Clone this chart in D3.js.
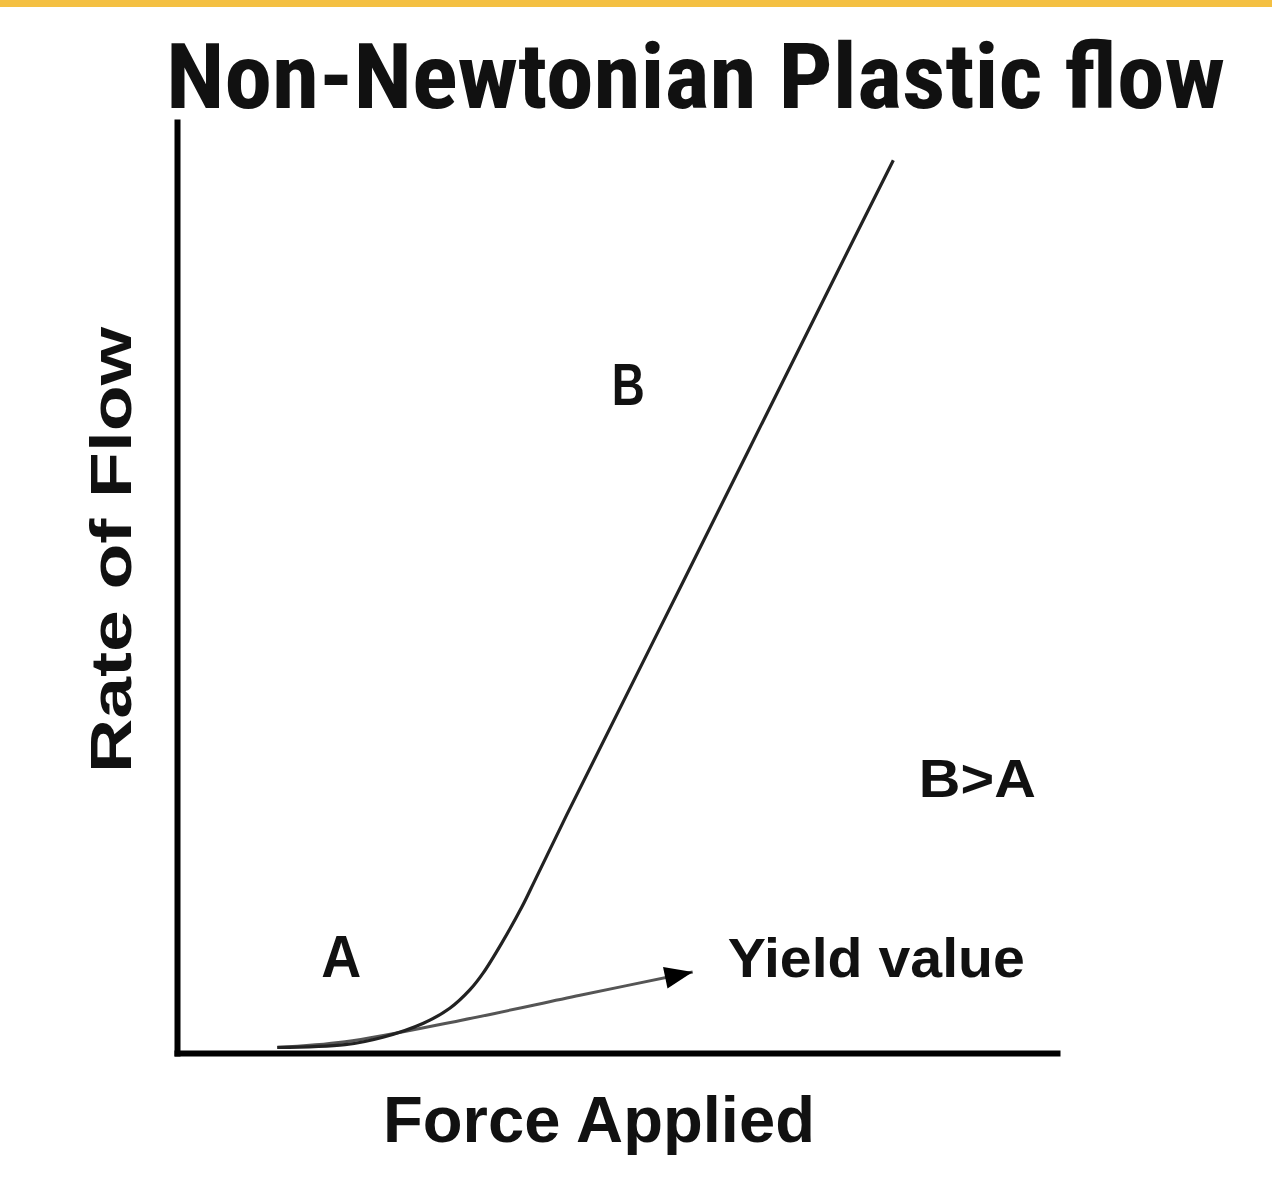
<!DOCTYPE html>
<html>
<head>
<meta charset="utf-8">
<script src="https://cdn.jsdelivr.net/npm/d3@7"></script>
<style>
  html, body { margin: 0; padding: 0; background: #fff; }
  svg { display: block; }
</style>
</head>
<body>
<script>
// ---- data (abstract units: force 0-100, flow 0-100) ----
const titleText = "Non-Newtonian Plastic flow";
const xLabel = "Force Applied";
const yLabel = "Rate of Flow";

// curve B (plastic flow)
const curveForce = [11.4, 19.1, 23.4, 28.0, 31.0, 33.3, 34.8, 36.9, 39.2, 40.7, 44.3, 57.5, 75.1, 81.4];
const curveFlow  = [0.6, 0.9, 1.7, 3.2, 4.8, 6.8, 8.6, 11.8, 15.7, 18.6, 25.6, 50.6, 84.0, 95.9];

// yield value arrow line
const yieldForce = [11.4, 19.1, 32.2, 45.8, 58.6];
const yieldFlow  = [0.6, 1.2, 3.5, 6.2, 8.7];

// annotations
const noteTexts = ["A", "B", "B>A", "Yield value"];
const noteForce = [16.4, 49.4, 84.3, 62.6];
const noteFlow  = [8.2, 69.6, 27.5, 8.2];

// ---- layout ----
const W = 1272, H = 1200;
const svg = d3.select("body").append("svg").attr("width", W).attr("height", H);

svg.append("rect").attr("x", 0).attr("y", 0).attr("width", W).attr("height", 7).attr("fill", "#f4c042");

const x = d3.scaleLinear().domain([0, 100]).range([177, 1057]);
const y = d3.scaleLinear().domain([0, 100]).range([1053, 122]);

// title
svg.append("text")
  .attr("x", 166).attr("y", 108)
  .attr("font-family", "'Liberation Sans Narrow', 'Roboto Condensed', 'DejaVu Sans Condensed', 'Liberation Sans', sans-serif")
  .attr("font-weight", "bold")
  .attr("font-size", 90)
  .attr("textLength", 1059)
  .attr("lengthAdjust", "spacingAndGlyphs")
  .attr("fill", "#111")
  .text(titleText);

// axes
const xAxis = d3.axisBottom(x).tickValues([]).tickSizeOuter(0);
const yAxis = d3.axisLeft(y).tickValues([]).tickSizeOuter(0);
const gx = svg.append("g").attr("transform", `translate(0,${y(0)})`).call(xAxis);
const gy = svg.append("g").attr("transform", `translate(${x(0)},0)`).call(yAxis);
[gx, gy].forEach(g => g.select(".domain").attr("stroke", "#000").attr("stroke-width", 6).attr("stroke-linecap", "square"));

// lines
const line = d3.line().x(d => x(d[0])).y(d => y(d[1])).curve(d3.curveCatmullRom.alpha(0.5));
const curvePts = curveForce.map((f, i) => [f, curveFlow[i]]);
const yieldPts = yieldForce.map((f, i) => [f, yieldFlow[i]]);

svg.append("path").datum(yieldPts).attr("d", line)
  .attr("fill", "none").attr("stroke", "#555").attr("stroke-width", 3);

svg.append("path").datum(curvePts).attr("d", line)
  .attr("fill", "none").attr("stroke", "#222").attr("stroke-width", 3.2);

// arrowhead at end of yield line
const pEnd = yieldPts[yieldPts.length - 1], pPrev = yieldPts[yieldPts.length - 2];
const ang = Math.atan2(y(pEnd[1]) - y(pPrev[1]), x(pEnd[0]) - x(pPrev[0])) * 180 / Math.PI;
svg.append("path")
  .attr("d", "M0,0 L-28,-11 L-28,11 Z")
  .attr("fill", "#000")
  .attr("transform", `translate(${x(pEnd[0])},${y(pEnd[1])}) rotate(${ang})`);

// axis labels
const labelFont = "'Liberation Sans', Arial, sans-serif";
svg.append("text")
  .attr("x", 383).attr("y", 1142)
  .attr("font-family", labelFont).attr("font-weight", "bold").attr("font-size", 65)
  .attr("textLength", 432).attr("lengthAdjust", "spacingAndGlyphs")
  .attr("fill", "#111")
  .text(xLabel);

svg.append("text")
  .attr("transform", "translate(131,773) rotate(-90)")
  .attr("font-family", labelFont).attr("font-weight", "bold").attr("font-size", 58)
  .attr("textLength", 446).attr("lengthAdjust", "spacingAndGlyphs")
  .attr("fill", "#111")
  .text(yLabel);

// annotations
const noteSizes = [60, 60, 53, 56];
const noteLens = [40, 33, 117, 297];
noteTexts.forEach((t, i) => {
  svg.append("text")
    .attr("x", x(noteForce[i])).attr("y", y(noteFlow[i]))
    .attr("font-family", labelFont).attr("font-weight", "bold")
    .attr("font-size", noteSizes[i])
    .attr("textLength", noteLens[i]).attr("lengthAdjust", "spacingAndGlyphs")
    .attr("fill", "#111")
    .text(t);
});
</script>
</body>
</html>
